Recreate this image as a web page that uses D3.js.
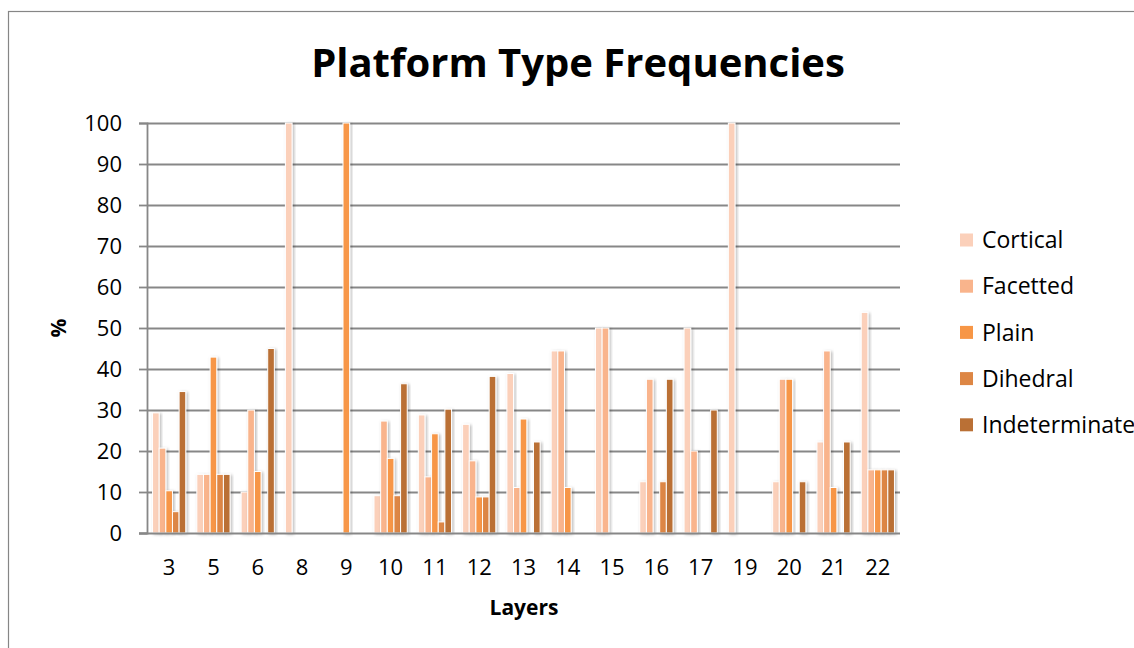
<!DOCTYPE html>
<html>
<head>
<meta charset="utf-8">
<script src="https://cdn.jsdelivr.net/npm/d3@7"></script>
<style>
  html, body { margin: 0; padding: 0; background: #fff; }
  svg { display: block; font-family: "Open Sans", sans-serif; }
</style>
</head>
<body>
<svg id="chart" width="1134" height="648"></svg>
<script>
// ---- data ----
const layers = ["3","5","6","8","9","10","11","12","13","14","15","16","17","19","20","21","22"];
const seriesNames = ["Cortical","Facetted","Plain","Dihedral","Indeterminate"];
const cortical      = [29.3, 14.3, 10, 100, 0,   9.1, 28.8, 26.5, 38.9, 44.4, 50, 12.5, 50, 100, 12.5, 22.2, 53.8];
const facetted      = [20.7, 14.3, 30, 0,   0,  27.3, 13.7, 17.6, 11.1, 44.4, 50, 37.5, 20, 0,   37.5, 44.4, 15.4];
const plain         = [10.3, 42.9, 15, 0, 100,  18.2, 24.2,  8.8, 27.8, 11.1,  0,  0,    0, 0,   37.5, 11.1, 15.4];
const dihedral      = [ 5.2, 14.3,  0, 0,   0,   9.1,  2.7,  8.8,  0,    0,    0, 12.5,  0, 0,    0,    0,   15.4];
const indeterminate = [34.5, 14.3, 45, 0,   0,  36.4, 30.2, 38.2, 22.2,  0,    0, 37.5, 30, 0,   12.5, 22.2, 15.4];
const yTicks = [0,10,20,30,40,50,60,70,80,90,100];
const colors = ["#FBD0BA", "#F9B48C", "#F79646", "#DD8644", "#BA7035"];

const seriesValues = [cortical, facetted, plain, dihedral, indeterminate];

// ---- layout ----
const svg = d3.select("#chart");
const plot = { left: 147, right: 900, top: 123, bottom: 533 };

svg.append("defs").append("filter")
  .attr("id", "shadow").attr("x", "-50%").attr("y", "-10%").attr("width", "200%").attr("height", "120%")
  .append("feDropShadow")
  .attr("dx", 1.5).attr("dy", 1).attr("stdDeviation", 1.8)
  .attr("flood-color", "#000").attr("flood-opacity", 0.28);

// outer border
svg.append("rect")
  .attr("x", 8.5).attr("y", 11.5).attr("width", 1200).attr("height", 700)
  .attr("fill", "none").attr("stroke", "#868686").attr("stroke-width", 1.2);

const x0 = d3.scaleBand().domain(layers).range([plot.left, plot.right])
  .paddingInner(0.25).paddingOuter(0.125);
const x1 = d3.scaleBand().domain(seriesNames).range([0, x0.bandwidth()]);
const y = d3.scaleLinear().domain([0, 100]).range([plot.bottom, plot.top]);

// gridlines
svg.append("g")
  .attr("transform", `translate(${plot.left},0)`)
  .call(d3.axisLeft(y).tickValues(yTicks.filter(d => d > 0)).tickSize(-(plot.right - plot.left)).tickFormat(""))
  .call(g => g.select(".domain").remove())
  .call(g => g.selectAll("line").attr("stroke", "#878787").attr("stroke-width", 1.8));

// y axis
const yAxis = svg.append("g")
  .attr("transform", `translate(${plot.left},0)`)
  .call(d3.axisLeft(y).tickValues(yTicks).tickSize(8).tickPadding(17).tickFormat(d3.format("d")));
yAxis.select(".domain").attr("stroke", "#878787").attr("stroke-width", 1.8);
yAxis.selectAll("line").attr("stroke", "#878787").attr("stroke-width", 1.8);
yAxis.selectAll("text").attr("font-size", 22).attr("fill", "#000")
  .attr("font-family", "'Open Sans', sans-serif").attr("dy", "0.35em");

// bars
const rows = layers.map((l, i) => ({ layer: l, vals: seriesNames.map((s, j) => ({ s, j, v: seriesValues[j][i] })) }));
const groups = svg.append("g").selectAll("g").data(rows).join("g")
  .attr("transform", d => `translate(${x0(d.layer)},0)`);
groups.selectAll("rect").data(d => d.vals.filter(e => e.v > 0)).join("rect")
  .attr("x", d => x1(d.s))
  .attr("y", d => y(d.v))
  .attr("width", x1.bandwidth())
  .attr("height", d => y(0) - y(d.v))
  .attr("fill", d => colors[d.j])
  .attr("stroke", "#fff").attr("stroke-width", 1)
  .attr("filter", "url(#shadow)");

// x axis
const xAxis = svg.append("g")
  .attr("transform", `translate(0,${plot.bottom})`)
  .call(d3.axisBottom(x0).tickSize(0).tickPadding(26));
xAxis.select(".domain").attr("d", `M${plot.left - 8},0.5H${plot.right}`)
  .attr("stroke", "#878787").attr("stroke-width", 1.8);
xAxis.selectAll("text").attr("font-size", 22).attr("fill", "#000")
  .attr("font-family", "'Open Sans', sans-serif");

// title
svg.append("text")
  .attr("x", 578).attr("y", 77)
  .attr("text-anchor", "middle")
  .attr("font-size", 40).attr("font-weight", "bold")
  .text("Platform Type Frequencies");

// axis titles
svg.append("text")
  .attr("x", 524).attr("y", 615)
  .attr("text-anchor", "middle")
  .attr("font-size", 21).attr("font-weight", "bold")
  .text("Layers");
svg.append("text")
  .attr("transform", "translate(66,328) rotate(-90)")
  .attr("text-anchor", "middle")
  .attr("font-size", 21).attr("font-weight", "bold")
  .text("%");

// legend
const legend = svg.append("g").selectAll("g").data(seriesNames).join("g")
  .attr("transform", (d, i) => `translate(960,${240 + i * 46.2})`);
legend.append("rect")
  .attr("x", 0).attr("y", -6.5).attr("width", 13).attr("height", 13)
  .attr("fill", (d, i) => colors[i]);
legend.append("text")
  .attr("x", 22).attr("y", 0).attr("dy", "0.36em")
  .attr("font-size", 23)
  .text(d => d);
</script>
</body>
</html>
